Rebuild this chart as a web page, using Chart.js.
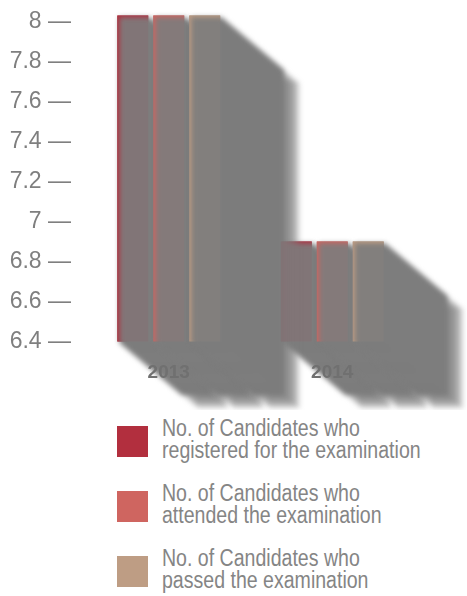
<!DOCTYPE html>
<html lang="en">
<head>
    <meta charset="UTF-8">
    <title>Candidates per Examination Year</title>
    <script src="https://cdn.jsdelivr.net/npm/chart.js"></script>
    <style>
        html, body { margin: 0; padding: 0; background: #fff; }
        #wrap { position: relative; width: 467px; height: 596px; overflow: hidden; }
        #chart { position: absolute; left: 0; top: 0; }
        .item { position: absolute; left: 117px; }
        .swatch { position: absolute; left: 0; top: 9px; width: 31px; height: 31px; }
        .text {
            position: absolute; left: 45px; top: 0;
            font-family: 'Liberation Sans', Arial, sans-serif;
            font-size: 23px; line-height: 22px; color: #858585; white-space: pre;
            transform: scaleX(0.85); transform-origin: left top;
        }
    </style>
</head>
<body>
<div id="wrap">
    <canvas id="chart" width="467" height="410"></canvas>
    <div id="legend"></div>
</div>

<script>
    // Chart data
    const years = ['2013', '2014'];
    const registered = [8.03, 6.9];
    const attended = [8.03, 6.9];
    const passed = [8.03, 6.9];

    const seriesNames = [
        'No. of Candidates who\nregistered for the examination',
        'No. of Candidates who\nattended the examination',
        'No. of Candidates who\npassed the examination'
    ];
    const seriesColors = ['#b22f3e', '#cf6560', '#be9d84'];

    // y axis range and step
    const yMin = 6.4;
    const yMax = 8;
    const yStep = 0.2;

    const FONT = "'Liberation Sans', Arial, sans-serif";
    const SHADOW = '#7d7d7d';

    // bar rectangle, cut at the bottom of the plot
    function barRect(chart, bar) {
        const p = bar.getProps(['x', 'y', 'base', 'width'], true);
        const bottom = Math.min(p.base, chart.chartArea.bottom);
        return { left: p.x - p.width / 2, top: p.y, width: p.width, height: bottom - p.y };
    }

    // long diagonal shadow of one dataset's bars
    function drawShadow(chart, meta) {
        const len = 80, slope = 0.84, fade = 16;
        const off = document.createElement('canvas');
        off.width = chart.width;
        off.height = chart.height;
        const oc = off.getContext('2d');
        oc.fillStyle = SHADOW;
        meta.data.forEach(bar => {
            const r = barRect(chart, bar);
            for (let k = len; k >= 2; k--) {
                oc.globalAlpha = (len - k) < fade ? 0.14 : 1;
                oc.fillRect(r.left + k, r.top + k * slope, r.width, r.height);
            }
        });
        const ctx = chart.ctx;
        ctx.save();
        ctx.filter = 'blur(2.5px)';
        ctx.drawImage(off, 0, 0);
        ctx.restore();
    }

    // series are painted left to right, each followed by its shadow,
    // then a faint colour wash of all bars on top
    const longShadow = {
        id: 'longShadow',
        afterDatasetsDraw(chart) {
            const ctx = chart.ctx;
            const area = chart.chartArea;
            chart.data.datasets.forEach((ds, i) => {
                const meta = chart.getDatasetMeta(i);
                ctx.save();
                ctx.beginPath();
                ctx.rect(0, 0, chart.width, area.bottom);
                ctx.clip();
                meta.data.forEach(bar => bar.draw(ctx, area));
                ctx.restore();
                drawShadow(chart, meta);
            });
            ctx.save();
            ctx.globalAlpha = 0.09;
            chart.data.datasets.forEach((ds, i) => {
                ctx.fillStyle = ds.backgroundColor;
                chart.getDatasetMeta(i).data.forEach(bar => {
                    const r = barRect(chart, bar);
                    ctx.fillRect(r.left, r.top, r.width, r.height);
                });
            });
            ctx.restore();
        }
    };

    const series = [registered, attended, passed];
    const datasets = series.map((values, i) => ({
        label: seriesNames[i].replace('\n', ' '),
        data: values,
        backgroundColor: seriesColors[i],
        borderWidth: 0,
        clip: { left: false, right: false, top: false, bottom: 0 },
        barPercentage: 0.86,
        categoryPercentage: 0.66
    }));

    new Chart(document.getElementById('chart'), {
        type: 'bar',
        data: { labels: years, datasets: datasets },
        plugins: [longShadow],
        options: {
            responsive: false,
            animation: false,
            devicePixelRatio: 1,
            layout: { padding: { top: 21.5, right: 53, left: 0, bottom: 0 } },
            plugins: {
                legend: { display: false },
                tooltip: { enabled: false }
            },
            scales: {
                x: {
                    grid: { display: false, drawTicks: false },
                    border: { display: false },
                    ticks: {
                        z: 1,
                        padding: 20,
                        color: '#707070',
                        font: { family: FONT, size: 19, weight: 'bold' }
                    },
                    afterFit(scale) { scale.height = 68.5; }
                },
                y: {
                    min: yMin,
                    max: yMax,
                    grid: { display: false, drawTicks: false },
                    border: { display: false },
                    ticks: {
                        stepSize: yStep,
                        padding: 16,
                        color: '#7f7f7f',
                        font: { family: FONT, size: 23 },
                        callback: v => (Math.round(v * 10) / 10) + ' \u2014'
                    },
                    afterFit(scale) {
                        scale.width = 87;
                        scale.paddingTop = 0;
                        scale.paddingBottom = 0;
                    }
                }
            }
        }
    });

    // legend with two-line labels
    const legend = document.getElementById('legend');
    seriesNames.forEach((name, i) => {
        const item = document.createElement('div');
        item.className = 'item';
        item.style.top = (417 + i * 65) + 'px';
        item.innerHTML = '<div class="swatch" style="background:' + seriesColors[i] + '"></div>' +
            '<div class="text"></div>';
        item.querySelector('.text').textContent = name;
        legend.appendChild(item);
    });
</script>
</body>
</html>
